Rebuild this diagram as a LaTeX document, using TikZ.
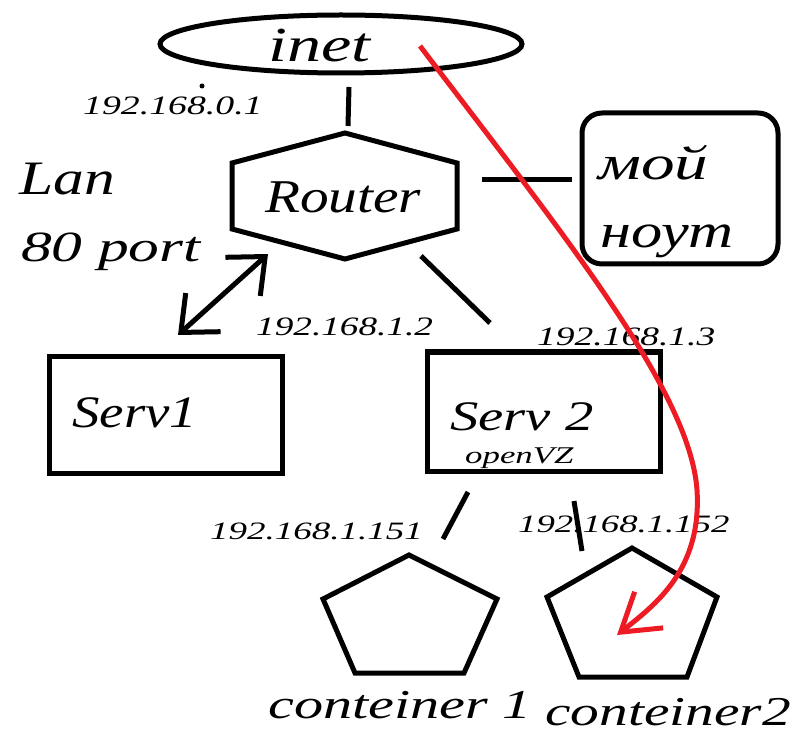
\documentclass[tikz,border=0pt]{standalone}
\usepackage{fontspec}
\setmainfont{Liberation Serif}
\usepackage{graphicx}
\usetikzlibrary{shapes.geometric,arrows.meta}
\definecolor{paintred}{RGB}{237,28,36}
\newcommand\hw[3]{{\fontsize{#1}{#1}\selectfont\itshape\scalebox{#2}[1]{#3}}}
\tikzset{
  shp/.style={draw=black, line width=5pt},
  conn/.style={draw=black, line width=5pt},
  lbl/.style={inner sep=0pt, anchor=base west},
  barb/.tip={Straight Barb[length=30pt,width=52pt]},
  redbarb/.tip={Straight Barb[length=36pt,width=46pt]},
  redarrow/.style={draw=paintred, line width=5pt, -redbarb},
}
\begin{document}
\begin{tikzpicture}[x=1pt,y=-1pt]
\useasboundingbox (0,0) rectangle (806,743);
\fill[white] (0,0) rectangle (806,743);

% inet
\node[shp, ellipse, minimum width=362pt, minimum height=58pt, inner sep=0pt] (inet) at (341,44) {};
\node[lbl] (inettxt) at (268,62) {\hw{49}{1.39}{inet}};
\fill (202,86) circle (2.5pt);
\node[lbl] (ip0) at (83,115) {\hw{26.6}{1.42}{192.168.0.1}};

% router
\draw[shp] (345,133) coordinate (hxT) -- (457,163) -- (457,229) -- (345,259) -- (232,229) -- (232,163) -- cycle;
\node[lbl] (router) at (265,213) {\hw{47}{1.22}{Router}};

\coordinate (ir1) at (349,87);
\coordinate (ir2) at (348,126);
\draw[conn] (ir1) -- (ir2);

% laptop
\node[shp, rounded corners=20pt, minimum width=196pt, minimum height=151pt, inner sep=0pt] (laptop) at (680,188.5) {};
\node[lbl] (moi) at (598,180) {\hw{48}{1.4}{мой}};
\node[lbl] (nout) at (600,248) {\hw{48}{1.3}{ноут}};
\coordinate (rl1) at (482,180);
\coordinate (rl2) at (572,180);
\draw[conn] (rl1) -- (rl2);

% Lan
\node[lbl] (lan) at (19,195) {\hw{48}{1.28}{Lan}};
\node[lbl] (port) at (21,262) {\hw{43}{1.43}{80 port}};

% double arrow
\coordinate (da1) at (178,335);
\coordinate (da2) at (268,254);
\draw[conn, barb-barb] (da1) -- (da2);

% router - serv2
\coordinate (rs1) at (421,256);
\coordinate (rs2) at (490,323);
\draw[conn] (rs1) -- (rs2);

\node[lbl] (ip12) at (256,335) {\hw{26.6}{1.40}{192.168.1.2}};
\node[lbl] (ip13) at (537,345) {\hw{26.6}{1.41}{192.168.1.3}};

% Serv1
\node[shp, minimum width=233pt, minimum height=117pt, inner sep=0pt] (serv1) at (165.5,414.5) {};
\node[lbl] (serv1txt) at (72,427) {\hw{45}{1.22}{Serv1}};

% Serv2
\node[shp, minimum width=233pt, minimum height=119pt, inner sep=0pt] (serv2) at (543.5,411.5) {};
\node[lbl] (serv2txt) at (450,430) {\hw{42}{1.35}{Serv 2}};
\node[lbl] (ovz) at (465,463) {\hw{24}{1.45}{openVZ}};

% serv2 - containers
\coordinate (sc1a) at (468,492);
\coordinate (sc1b) at (443,539);
\draw[conn] (sc1a) -- (sc1b);
\coordinate (sc2a) at (574,501);
\coordinate (sc2b) at (582,551);
\draw[conn] (sc2a) -- (sc2b);

\node[lbl] (ip151) at (210,539) {\hw{25}{1.48}{192.168.1.151}};
\node[lbl] (ip152) at (518,532) {\hw{25}{1.47}{192.168.1.152}};

% containers
\draw[shp] (409,555) -- (497,599) -- (464,673) -- (355,673) -- (323,599) -- cycle;
\draw[shp] (632,548) -- (717,597) -- (687,677) -- (579,677) -- (547,597) -- cycle;
\node[lbl] (c1) at (268,718) {\hw{41}{1.42}{conteiner 1}};
\node[lbl] (c2) at (545,725) {\hw{41}{1.40}{conteiner2}};

% red arrow
\coordinate (r0) at (420,46);
\coordinate (r1) at (697,490);
\coordinate (r2) at (617,635);
\draw[redarrow] (r0) .. controls (560,230) and (690,390) .. (r1) .. controls (702,570) and (655,605) .. (r2);
\end{tikzpicture}
\end{document}
